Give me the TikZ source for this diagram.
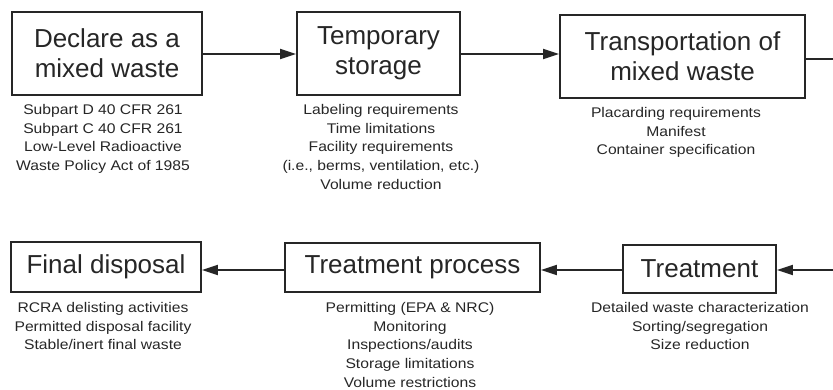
\documentclass[tikz,border=0pt]{standalone}
\usepackage{fontspec}
\setmainfont{Liberation Sans}
\newfontfamily\notefont[FakeStretch=1.12]{Liberation Sans}
\usetikzlibrary{arrows.meta}
\definecolor{ink}{HTML}{262626}
\begin{document}
\begin{tikzpicture}[x=1pt,y=-1pt,
  box/.style={draw=ink, line width=1.8pt, text=ink, font=\fontsize{26}{30}\selectfont,
    align=center, inner sep=0pt},
  note/.style={font=\notefont\fontsize{14}{18.7}\selectfont, text=ink, align=center,
    anchor=north, inner sep=0pt},
  flow/.style={draw=ink, line width=2pt, -{Triangle[length=16pt,width=10pt]}},
  plain/.style={draw=ink, line width=2pt}]
\useasboundingbox (0,0) rectangle (833,390);
% top row
\node[box, minimum width=190pt, minimum height=83pt] (b1) at (107,53.5) {Declare as a\\mixed waste};
\node[box, minimum width=163pt, minimum height=83pt] (b2) at (378.5,53.5) {Temporary\\storage};
\node[box, minimum width=245pt, minimum height=83pt] (b3) at (682.5,56.5) {Transportation of\\mixed waste};
% bottom row
\node[box, minimum width=190pt, minimum height=50pt] (b4) at (106,267) {Final disposal};
\node[box, minimum width=255pt, minimum height=49pt] (b5) at (412.5,267.5) {Treatment process};
\node[box, minimum width=153pt, minimum height=48pt] (b6) at (699.5,269) {Treatment};
% notes
\node[note] (n1) at (103,104) {Subpart D 40 CFR 261\\Subpart C 40 CFR 261\\Low-Level Radioactive\\Waste Policy Act of 1985};
\node[note] (n2) at (381,104) {Labeling requirements\\Time limitations\\Facility requirements\\(i.e., berms, ventilation, etc.)\\Volume reduction};
\node[note] (n3) at (676,107) {Placarding requirements\\Manifest\\Container specification};
\node[note] (n4) at (103,302) {RCRA delisting activities\\Permitted disposal facility\\Stable/inert final waste};
\node[note] (n5) at (410,302) {Permitting (EPA \& NRC)\\Monitoring\\Inspections/audits\\Storage limitations\\Volume restrictions};
\node[note] (n6) at (700,302) {Detailed waste characterization\\Sorting/segregation\\Size reduction};
% connectors
\coordinate (r1) at (833,59);
\coordinate (r2) at (833,270);
\draw[flow] (b1.east |- 0,54) -- (b2.west |- 0,54);
\draw[flow] (b2.east |- 0,54) -- (b3.west |- 0,54);
\draw[plain] (b3.east |- r1) -- (r1);
\draw[flow] (r2) -- (r2 -| b6.east);
\draw[flow] (b6.west |- r2) -- (r2 -| b5.east);
\draw[flow] (b5.west |- r2) -- (r2 -| b4.east);
\end{tikzpicture}
\end{document}
